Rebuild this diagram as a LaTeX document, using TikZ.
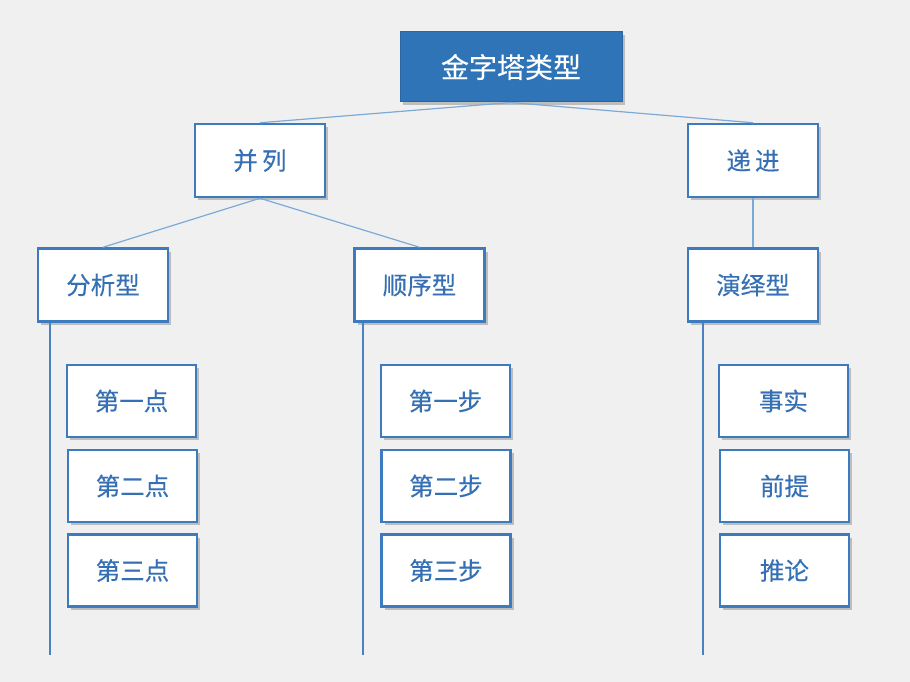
\documentclass[tikz,border=0pt]{standalone}
\usepackage{fontspec}
\newfontfamily\cjk[FakeBold=0.3]{Noto Sans CJK SC}
\usetikzlibrary{shadows}
\definecolor{bg}{HTML}{F1F0F1}
\definecolor{boxline}{HTML}{3D7BC0}
\definecolor{boxtext}{HTML}{3570B5}
\definecolor{topfill}{HTML}{2E74B6}
\definecolor{topline}{HTML}{2A66A3}
\definecolor{thinline}{HTML}{7AAAD8}
\definecolor{vline}{HTML}{4A82C0}
\tikzset{
  box/.style={draw=boxline, line width=2.5pt, fill=white, minimum width=130pt, minimum height=73pt,
    inner sep=0pt, text=boxtext, font=\cjk\fontsize{24.5}{27}\selectfont,
    drop shadow={shadow xshift=3pt, shadow yshift=-3pt, opacity=0.45, fill=gray}},
  leaf/.style={box, minimum width=129pt, minimum height=72pt},
  topbox/.style={draw=topline, line width=1pt, fill=topfill, minimum width=222pt, minimum height=70pt,
    inner sep=0pt, text=white, font=\cjk\fontsize{28}{31}\selectfont,
    drop shadow={shadow xshift=3pt, shadow yshift=-3pt, opacity=0.45, fill=gray}},
  thin/.style={draw=thinline, line width=1.2pt},
  trunk/.style={draw=vline, line width=2.4pt}
}
\begin{document}
\begin{tikzpicture}[x=1pt,y=-1pt]
\fill[bg] (0,0) rectangle (910,682);
\useasboundingbox (0,0) rectangle (910,682);
\node[topbox] (top) at (511,67) {金字塔类型};
\node[box] (bl) at (260,160.5) {并\,列};
\node[box] (dj) at (753,160.5) {递\,进};
\node[box] (fx) at (103,285) {分析型};
\node[box] (sx) at (419.5,285) {顺序型};
\node[box] (yy) at (753,285) {演绎型};
\coordinate (e1) at (50,655);
\coordinate (e2) at (363,655);
\coordinate (e3) at (703,655);
\node[leaf] (a1) at (131.5,401) {第一点};
\node[leaf] (a2) at (132.5,486) {第二点};
\node[leaf] (a3) at (132.5,570.5) {第三点};
\node[leaf] (b1) at (445.5,401) {第一步};
\node[leaf] (b2) at (446,486) {第二步};
\node[leaf] (b3) at (446,570.5) {第三步};
\node[leaf] (c1) at (783.5,401) {事实};
\node[leaf] (c2) at (784.5,486) {前提};
\node[leaf] (c3) at (784.5,570.5) {推论};
\draw[thin] (top.south) -- (bl.north);
\draw[thin] (top.south) -- (dj.north);
\draw[thin] (bl.south) -- (fx.north);
\draw[thin] (bl.south) -- (sx.north);
\draw[thin] (dj.south) -- (yy.north);
\draw[trunk] (fx.south -| e1) -- (e1);
\draw[trunk] (sx.south -| e2) -- (e2);
\draw[trunk] (yy.south -| e3) -- (e3);
\end{tikzpicture}
\end{document}
